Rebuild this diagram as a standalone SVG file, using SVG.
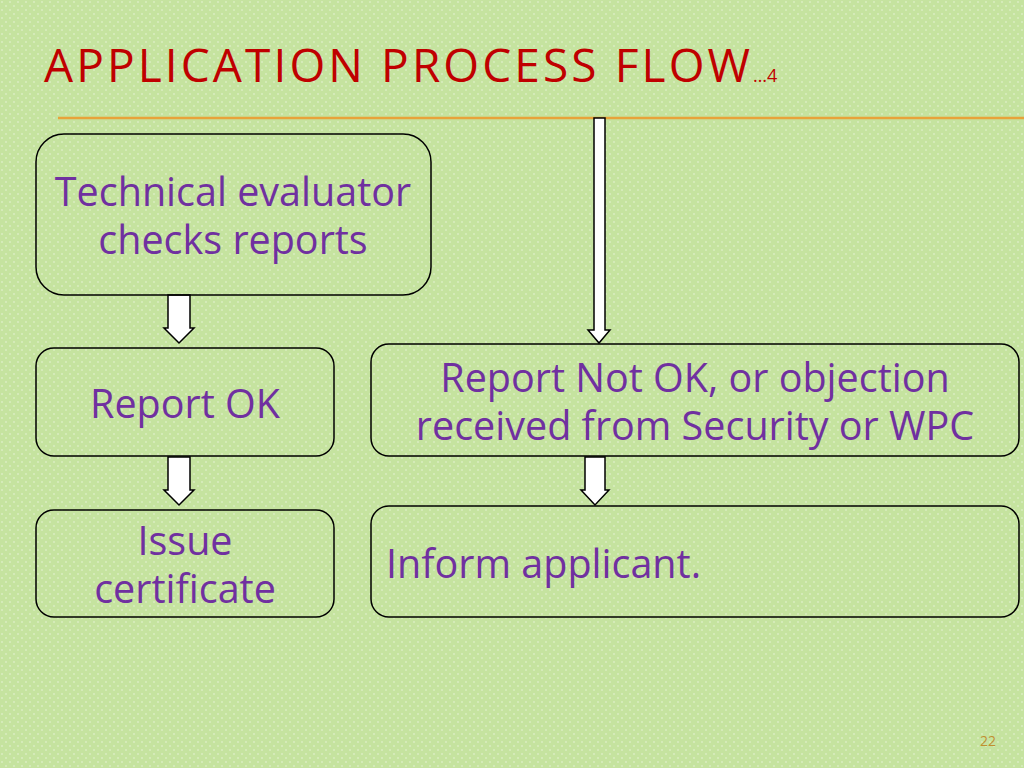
<svg xmlns="http://www.w3.org/2000/svg" width="1024" height="768" viewBox="0 0 1024 768">
<defs>
<pattern id="dots" width="8" height="8" patternUnits="userSpaceOnUse"><rect width="8" height="8" fill="#c5e39f"/><circle cx="2" cy="2" r="0.8" fill="#e8f5d8"/><circle cx="6" cy="6" r="0.8" fill="#e8f5d8"/></pattern>
</defs>
<style>
.box{fill:none;stroke:#000;stroke-width:1.5}
.arr{fill:#fff;stroke:#000;stroke-width:1.5}
.t{font-family:"Open Sans","DejaVu Sans",sans-serif;font-size:39.5px;fill:#7030a0;text-anchor:middle}
.l{text-anchor:start}
</style>
<rect width="1024" height="768" fill="url(#dots)"/>
<text x="44" y="82" font-family="'Open Sans','DejaVu Sans',sans-serif" font-size="46" fill="#c00000"><tspan textLength="706" lengthAdjust="spacing">APPLICATION PROCESS FLOW</tspan><tspan font-size="18">…4</tspan></text>
<line x1="58" y1="118" x2="1024" y2="118" stroke="#e8a33a" stroke-width="2.5"/>
<g id="connectors">
<polygon class="arr" points="168,295 190,295 190,328 194,328 179,343 164,328 168,328"/>
<polygon class="arr" points="594,118 605,118 605,330 610,330 599,343 588,330 594,330"/>
<polygon class="arr" points="168,457 190,457 190,490 194,490 179,505 164,490 168,490"/>
<polygon class="arr" points="585,457 605,457 605,490 609,490 595,505 581,490 585,490"/>
</g>
<g id="n1"><rect class="box" x="36" y="134" width="395" height="161" rx="28"/><text class="t" x="233" y="206">Technical evaluator</text><text class="t" x="233" y="254">checks reports</text></g>
<g id="n2"><rect class="box" x="36" y="348" width="298" height="108" rx="18"/><text class="t" x="185" y="418">Report OK</text></g>
<g id="n3"><rect class="box" x="371" y="344" width="648" height="112" rx="18"/><text class="t" x="695" y="392">Report Not OK, or objection</text><text class="t" x="695" y="440">received from Security or WPC</text></g>
<g id="n4"><rect class="box" x="36" y="510" width="298" height="107" rx="18"/><text class="t" x="185" y="555">Issue</text><text class="t" x="185" y="603">certificate</text></g>
<g id="n5"><rect class="box" x="371" y="506" width="648" height="111" rx="18"/><text class="t l" x="386" y="578">Inform applicant.</text></g>
<text x="996" y="746" font-family="'Open Sans','DejaVu Sans',sans-serif" font-size="14" fill="#c09030" text-anchor="end">22</text>
</svg>
